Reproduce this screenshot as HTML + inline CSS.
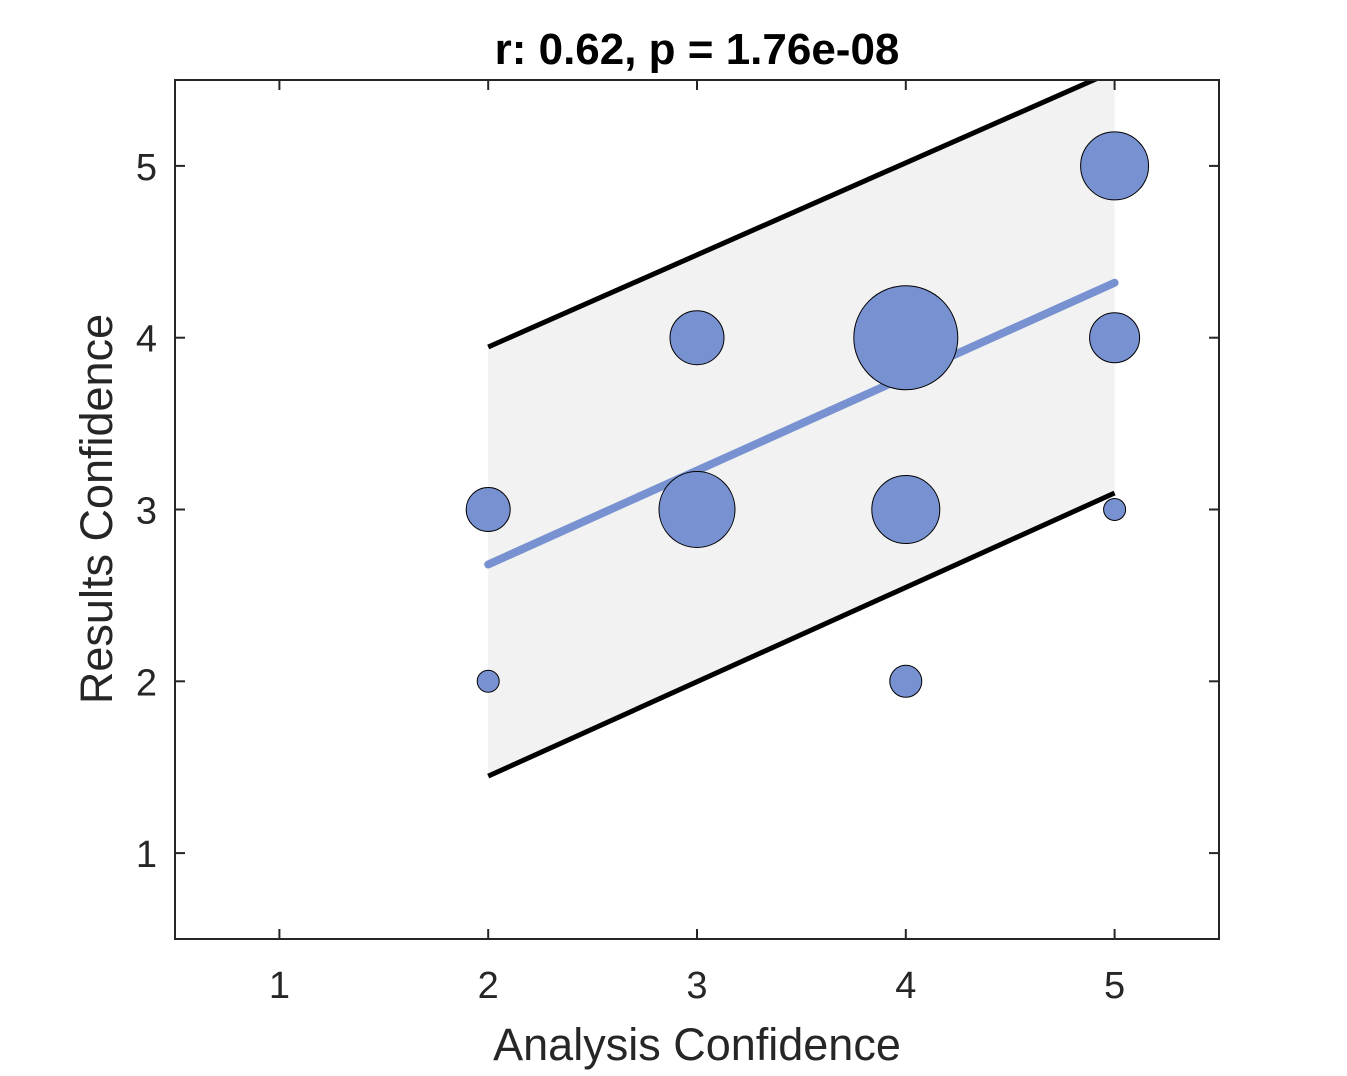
<!DOCTYPE html>
<html><head><meta charset="utf-8"><style>
body{margin:0;background:#fff;}
svg{font-family:"Liberation Sans",Arial,sans-serif;}
</style></head><body>
<svg id="chart" width="1347" height="1071" viewBox="0 0 1347 1071">
<g id="g"></g>
</svg>
<script>
const xs=[2,2,3,3,4,4,4,5,5,5];
const ys=[3,2,4,3,4,3,2,5,4,3];
const radii=[22,11,27,38,52,34,16,34,25,11];
const xTicks=[1,2,3,4,5];
const yTicks=[1,2,3,4,5];
const fitLine=[[2,2.68],[5,4.32]];
const upperCI=[[2,3.946],[5,5.554]];
const lowerCI=[[2,1.448],[5,3.096]];
const L=175,R=1219,T=80,B=939;
const X=v=>L+(v-0.5)/5*(R-L);
const Y=v=>B-(v-0.5)/5*(B-T);
const NS="http://www.w3.org/2000/svg";
const g=document.getElementById('g');
function mk(t,a,p){const e=document.createElementNS(NS,t);for(const k in a)e.setAttribute(k,a[k]);(p||g).appendChild(e);return e;}
const defs=mk('defs',{});const cp=mk('clipPath',{id:'clip'},defs);mk('rect',{x:L,y:T,width:R-L,height:B-T},cp);
const plot=mk('g',{'clip-path':'url(#clip)'});
const band=mk('polygon',{points:[[upperCI[0][0],upperCI[0][1]],[upperCI[1][0],upperCI[1][1]],[lowerCI[1][0],lowerCI[1][1]],[lowerCI[0][0],lowerCI[0][1]]].map(p=>X(p[0])+','+Y(p[1])).join(' '),fill:'#f2f2f2'},plot);


const up=mk('line',{x1:X(upperCI[0][0]),y1:Y(upperCI[0][1]),x2:X(upperCI[1][0]),y2:Y(upperCI[1][1]),stroke:'#000','stroke-width':5},plot);


const lo=mk('line',{x1:X(lowerCI[0][0]),y1:Y(lowerCI[0][1]),x2:X(lowerCI[1][0]),y2:Y(lowerCI[1][1]),stroke:'#000','stroke-width':5},plot);


const fit=mk('line',{x1:X(fitLine[0][0]),y1:Y(fitLine[0][1]),x2:X(fitLine[1][0]),y2:Y(fitLine[1][1]),stroke:'#7891d1','stroke-width':8,'stroke-linecap':'round'},plot);


for(let i=0;i<xs.length;i++){
 const c=mk('circle',{cx:X(xs[i]),cy:Y(ys[i]),r:radii[i],fill:'#7891d1',stroke:'#000','stroke-width':1},plot);
 
 
}
const ax=mk('rect',{x:L,y:T,width:R-L,height:B-T,fill:'none',stroke:'#262626','stroke-width':2});


xTicks.forEach(v=>{
 mk('line',{x1:X(v),x2:X(v),y1:B,y2:B-10,stroke:'#262626','stroke-width':2});
 mk('line',{x1:X(v),x2:X(v),y1:T,y2:T+10,stroke:'#262626','stroke-width':2});
 const t=mk('text',{x:X(v),y:B+59,'text-anchor':'middle','font-size':38,fill:'#262626'});t.textContent=v;
 
 
});
yTicks.forEach(v=>{
 mk('line',{x1:L,x2:L+10,y1:Y(v),y2:Y(v),stroke:'#262626','stroke-width':2});
 mk('line',{x1:R,x2:R-10,y1:Y(v),y2:Y(v),stroke:'#262626','stroke-width':2});
 const t=mk('text',{x:L-18,y:Y(v)+14,'text-anchor':'end','font-size':38,fill:'#262626'});t.textContent=v;
 
 
});
const xt=mk('text',{x:697,y:1060,'text-anchor':'middle','font-size':45,fill:'#262626'});xt.textContent='Analysis Confidence';


const yt=mk('text',{x:0,y:0,transform:'translate(112,509) rotate(-90)','text-anchor':'middle','font-size':45,fill:'#262626'});yt.textContent='Results Confidence';


const tt=mk('text',{x:697,y:64,'text-anchor':'middle','font-size':44,'font-weight':'bold',fill:'#000'});tt.textContent='r: 0.62, p = 1.76e-08';


</script>
</body></html>
